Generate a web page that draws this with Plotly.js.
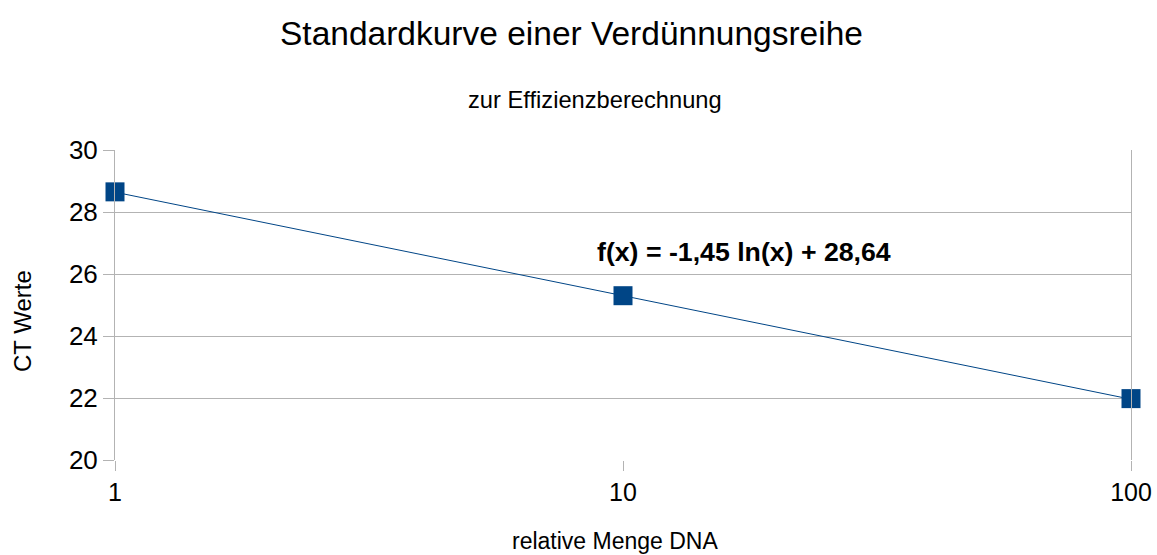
<!DOCTYPE html>
<html>
<head>
<meta charset="utf-8">
<script src="https://cdn.plot.ly/plotly-3.0.1.min.js"></script>
<style>html,body{margin:0;padding:0;background:#fff;}#chart{width:1157px;height:555px;}</style>
</head>
<body>
<div id="chart"></div>
<script>
const dnaMenge = [1, 10, 100];
const ctWerte = [28.65, 25.3, 21.98];
const trendX = [1, 100];
const trendY = [28.64, 21.96];
const yTicks = [20, 22, 24, 26, 28, 30];
const xTicks = [1, 10, 100];
const xTickLabels = ['1', '10', '100'];
const equation = 'f(x) = -1,45 ln(x) + 28,64';

const font = 'Liberation Sans, Arial, sans-serif';
const grid = '#b3b3b3';

const traces = [
  {x: trendX, y: trendY, mode: 'lines', line: {color: '#004586', width: 1}, hoverinfo: 'skip', showlegend: false},
  {x: dnaMenge, y: ctWerte, mode: 'markers', marker: {symbol: 'square', size: 19, color: '#004586'}, showlegend: false, cliponaxis: false}
];

const px = v => (v - 115) / 1016;   // pixel x -> paper x
const py = v => (460 - v) / 310;    // pixel y -> paper y

const layout = {
  width: 1157, height: 555,
  margin: {l: 115, r: 26, t: 150, b: 95},
  paper_bgcolor: '#fff', plot_bgcolor: '#fff',
  font: {family: font, color: '#000'},
  showlegend: false,
  xaxis: {
    type: 'log', range: [0, 2],
    tickvals: xTicks, ticktext: xTickLabels,
    showgrid: false,
    ticks: 'outside', ticklen: 10, tickcolor: grid, tickwidth: 1,
    showline: false, zeroline: false,
    tickfont: {size: 25, family: font}
  },
  yaxis: {
    range: [20, 30],
    tickvals: yTicks,
    showgrid: true, gridcolor: grid, gridwidth: 1,
    ticks: 'outside', ticklen: 11, tickcolor: grid, tickwidth: 1,
    showline: true, mirror: true, linecolor: grid, linewidth: 1,
    zeroline: false,
    tickfont: {size: 26, family: font}
  },
  annotations: [
    {text: 'Standardkurve einer Verdünnungsreihe', xref: 'paper', yref: 'paper', x: px(571), y: py(33), xanchor: 'center', yanchor: 'middle', showarrow: false, font: {size: 33.5, family: font}},
    {text: 'zur Effizienzberechnung', xref: 'paper', yref: 'paper', x: px(595), y: py(100), xanchor: 'center', yanchor: 'middle', showarrow: false, font: {size: 23.7, family: font}},
    {text: 'CT Werte', xref: 'paper', yref: 'paper', x: px(22), y: py(321), xanchor: 'center', yanchor: 'middle', textangle: -90, showarrow: false, font: {size: 24, family: font}},
    {text: 'relative Menge DNA', xref: 'paper', yref: 'paper', x: px(615), y: py(555), xanchor: 'center', yanchor: 'bottom', borderpad: 0, showarrow: false, font: {size: 23, family: font}},
    {text: '<b>' + equation + '</b>', xref: 'paper', yref: 'y', x: px(744), y: 26.71, xanchor: 'center', yanchor: 'middle', showarrow: false, font: {size: 26.7, family: font}}
  ]
};

Plotly.newPlot('chart', traces, layout, {displayModeBar: false, staticPlot: true});
</script>
</body>
</html>
